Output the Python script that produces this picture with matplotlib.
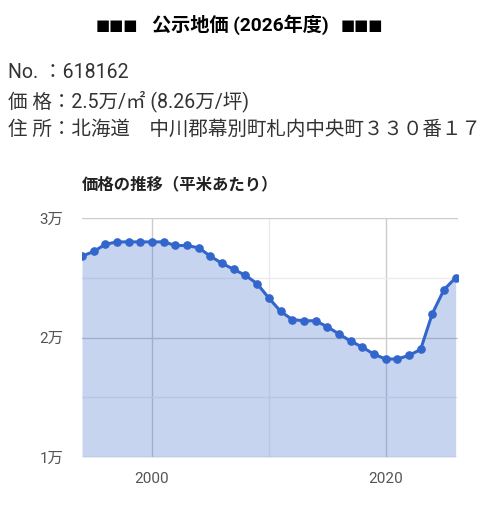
import matplotlib.pyplot as plt
from matplotlib.ticker import MultipleLocator, FuncFormatter

plt.rcParams['font.family'] = ['Roboto', 'Noto Sans CJK JP', 'DejaVu Sans']

# 公示地価の推移（万円/㎡）
years = list(range(1994, 2027))
prices = [2.68, 2.72, 2.78, 2.80, 2.80, 2.80, 2.80, 2.80, 2.77, 2.77,
          2.75, 2.68, 2.62, 2.57, 2.52, 2.45, 2.33, 2.22, 2.15, 2.14,
          2.14, 2.09, 2.03, 1.97, 1.92, 1.86, 1.82, 1.82, 1.85, 1.90,
          2.20, 2.40, 2.50]

title = "公示地価 (2026年度)"
marks = "■■■"
info_lines = ["No. ：618162",
              "価 格：2.5万/㎡ (8.26万/坪)",
              "住 所：北海道　中川郡幕別町札内中央町３３０番１７"]
chart_title = "価格の推移（平米あたり）"

line_color = "#3366cc"

fig = plt.figure(figsize=(4.87, 5.05), dpi=100)
ty = 1 - 25 / 505
fig.text(240 / 487, ty, title, ha='center', va='center',
         fontsize=13.8, fontweight='bold', color='black')
fig.text(96 / 487, ty, marks, ha='left', va='center',
         fontsize=10.8, color='black', family='DejaVu Sans')
fig.text(383 / 487, ty, marks, ha='right', va='center',
         fontsize=10.8, color='black', family='DejaVu Sans')
for i, t in enumerate(info_lines):
    fig.text(8 / 487, 1 - (73 + 28 * i) / 505, t, ha='left', va='center',
             fontsize=14.05, color='#333333')
fig.text(82 / 487, 1 - 184 / 505, chart_title, ha='left', va='center',
         fontsize=11.8, fontweight='bold', color='#222222')

ax = fig.add_axes([82 / 487, 48 / 505, 376 / 487, 239 / 505])
ax.set_axisbelow(True)
ax.fill_between(years, prices, 1, color=line_color, alpha=0.28, lw=0)
ax.plot(years, prices, color=line_color, lw=2.2, marker='o', ms=5.2)

ax.set_xlim(1994, 2026.2)
ax.set_ylim(1, 3)
ax.xaxis.set_major_locator(MultipleLocator(20))
ax.xaxis.set_minor_locator(MultipleLocator(10))
ax.yaxis.set_major_locator(MultipleLocator(1))
ax.yaxis.set_minor_locator(MultipleLocator(0.5))
ax.yaxis.set_major_formatter(FuncFormatter(lambda v, p: f"{int(v)}万"))
ax.grid(which='major', color='#cccccc', lw=1)
ax.grid(which='minor', color='#ebebeb', lw=1)
ax.tick_params(which='both', length=0, labelsize=11, colors='#555555')
ax.tick_params(axis='x', pad=11)
ax.tick_params(axis='y', pad=13.5)
for s in ax.spines.values():
    s.set_visible(False)

fig.savefig("out.png", dpi=100)
